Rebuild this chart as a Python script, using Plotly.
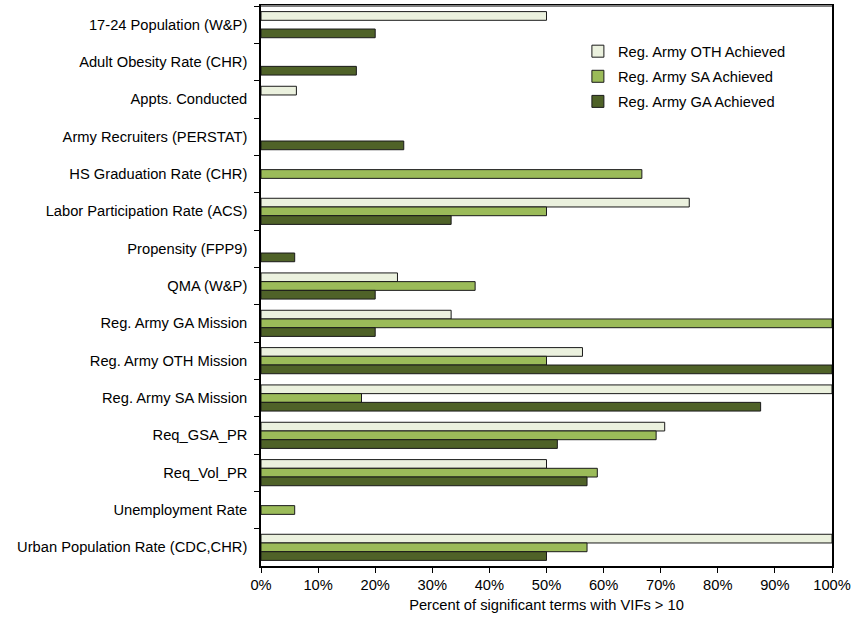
import plotly.graph_objects as go

categories = [
    "17-24 Population (W&P)",
    "Adult Obesity Rate (CHR)",
    "Appts. Conducted",
    "Army Recruiters (PERSTAT)",
    "HS Graduation Rate (CHR)",
    "Labor Participation Rate (ACS)",
    "Propensity (FPP9)",
    "QMA (W&P)",
    "Reg. Army GA Mission",
    "Reg. Army OTH Mission",
    "Reg. Army SA Mission",
    "Req_GSA_PR",
    "Req_Vol_PR",
    "Unemployment Rate",
    "Urban Population Rate (CDC,CHR)",
]

oth_achieved = [50, 0, 6.2, 0, 0, 75, 0, 23.9, 33.3, 56.3, 100, 70.7, 50, 0, 100]
sa_achieved = [0, 0, 0, 0, 66.7, 50, 0, 37.5, 100, 50, 17.6, 69.2, 58.9, 5.9, 57.1]
ga_achieved = [20, 16.7, 0, 25, 0, 33.3, 5.9, 20, 20, 100, 87.5, 51.9, 57.1, 0, 50]

series_names = ["Reg. Army OTH Achieved", "Reg. Army SA Achieved", "Reg. Army GA Achieved"]
series_values = [oth_achieved, sa_achieved, ga_achieved]
series_colors = ["#EBF1DE", "#9BBB59", "#4F6228"]

x_tick_vals = [0, 10, 20, 30, 40, 50, 60, 70, 80, 90, 100]
x_tick_text = ["0%", "10%", "20%", "30%", "40%", "50%", "60%", "70%", "80%", "90%", "100%"]

FS = 14.7

fig = go.Figure()
for i, (name, vals, col) in enumerate(zip(series_names, series_values, series_colors)):
    fig.add_trace(go.Bar(
        y=categories, x=[v if v else None for v in vals], name=name, orientation="h",
        legendgroup=f"g{i}",
        marker=dict(color=col, line=dict(color="#1a1a1a", width=1)),
    ))

fig.update_layout(
    width=851, height=618,
    barmode="group", bargap=0.3, bargroupgap=0,
    plot_bgcolor="white", paper_bgcolor="white",
    margin=dict(l=261, r=19, t=6, b=52, autoexpand=False),
    font=dict(family="Liberation Sans, Arial, sans-serif", size=FS, color="#000000"),
    showlegend=True,
    legend=dict(
        x=0.555, y=0.948, xanchor="left", yanchor="top",
        bgcolor="rgba(0,0,0,0)", font=dict(size=FS),
        traceorder="grouped", tracegroupgap=3,
    ),
    xaxis=dict(
        range=[0, 100], tickvals=x_tick_vals, ticktext=x_tick_text,
        showgrid=False, zeroline=False, automargin=False,
        showline=True, linecolor="#000000", linewidth=1.5, mirror=True,
        ticks="outside", ticklen=5, tickcolor="#000000",
        title=dict(text="Percent of significant terms with VIFs > 10", font=dict(size=FS), standoff=7),
        tickfont=dict(size=FS),
    ),
    yaxis=dict(
        autorange="reversed", showgrid=False, zeroline=False, automargin=False,
        showline=True, linecolor="#000000", linewidth=1.5, mirror=True,
        ticks="outside", ticklen=5, tickcolor="#000000", tickson="boundaries",
        ticklabelstandoff=9,
        tickfont=dict(size=FS),
    ),
)
fig.add_shape(type="line", xref="paper", yref="paper", x0=0, x1=1, y0=1, y1=1,
              line=dict(color="#808080", width=2))

fig.write_html("out.html", config={"displayModeBar": False},
               post_script="document.body.style.margin='0';")
